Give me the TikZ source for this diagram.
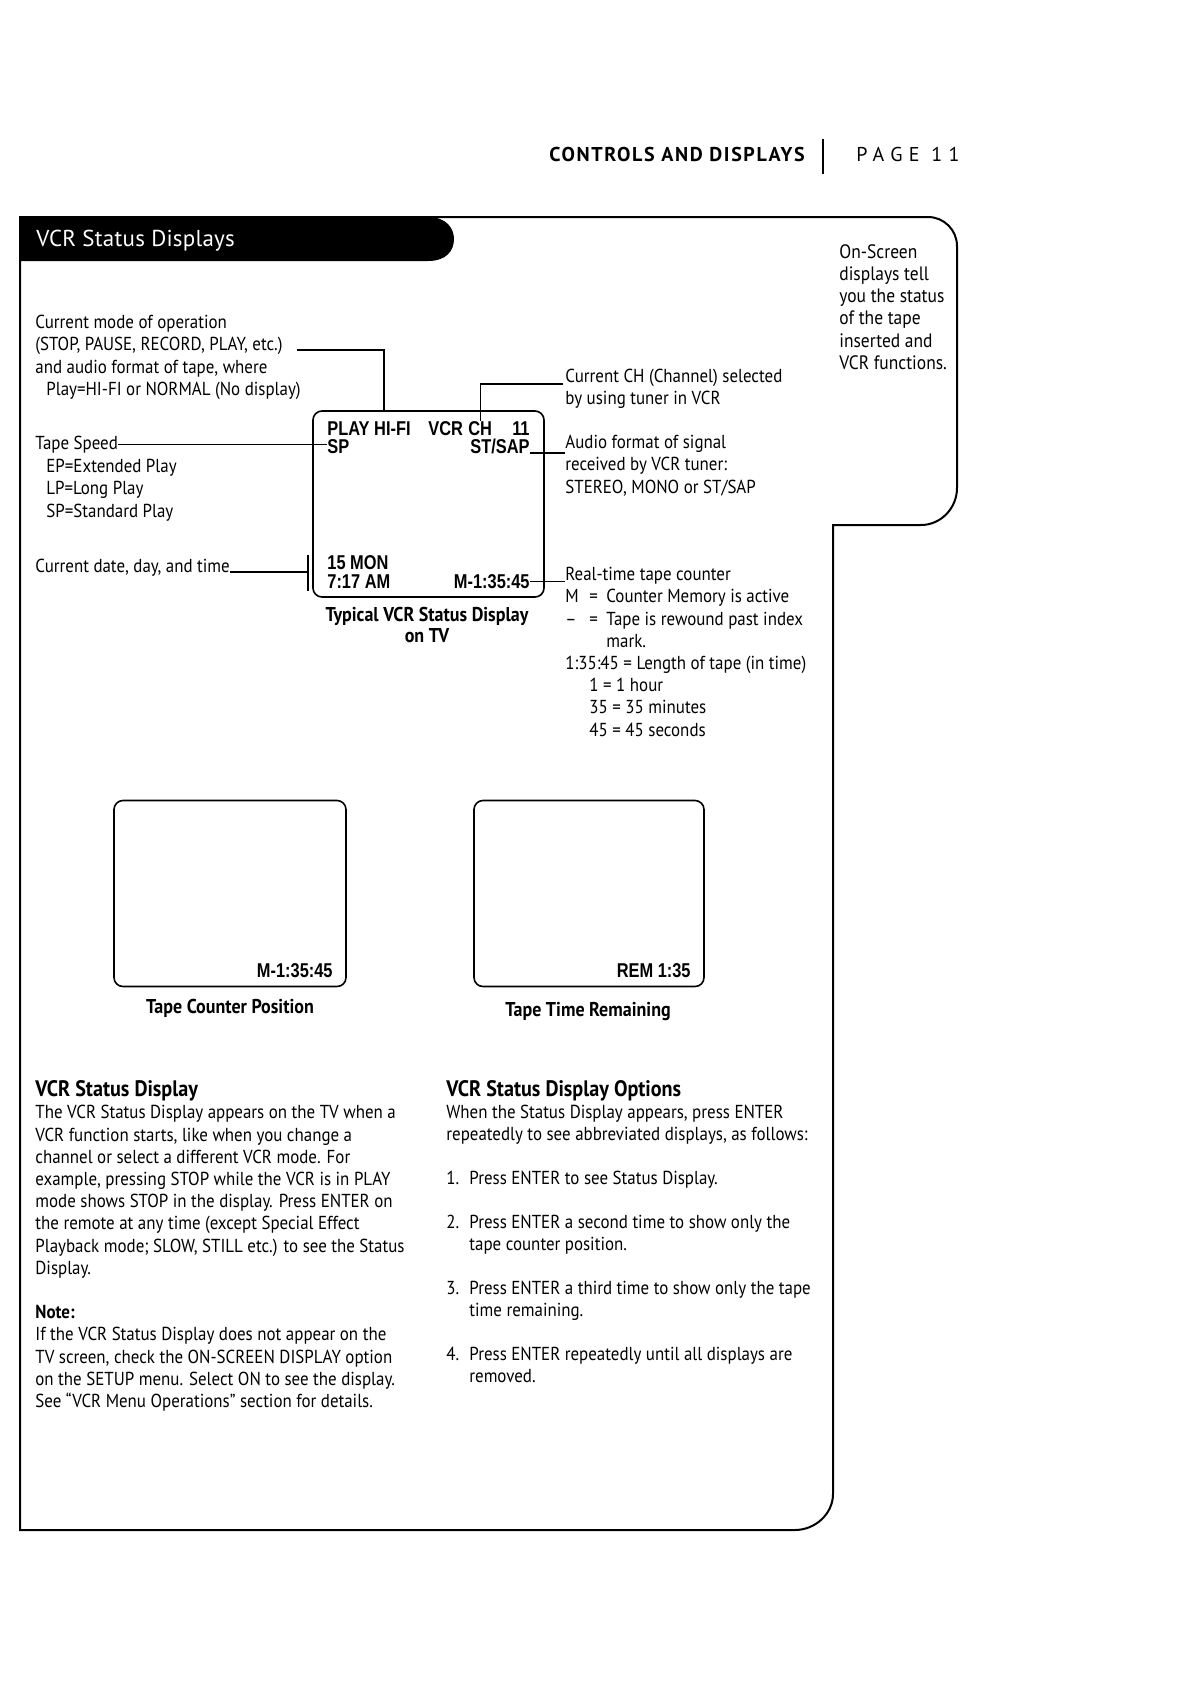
\documentclass[tikz,border=0pt]{standalone}
\usepackage{fontspec}
\setmainfont[FakeStretch=0.9]{PT Sans}
\newfontfamily\tvfont[FakeStretch=0.82]{Liberation Sans}
\newfontfamily\headfont[LetterSpace=8]{PT Sans}
\newfontfamily\pagefont[LetterSpace=32]{PT Sans}
\newfontfamily\titlefont[LetterSpace=1]{PT Sans}

\tikzset{
  txt/.style={inner sep=0pt, anchor=north west, align=left,
    font=\fontsize{9.4}{11.1}\selectfont},
  oneline/.style={inner sep=0pt, anchor=base west,
    font=\fontsize{9.4}{11.1}\selectfont},
  tvtxt/.style={inner sep=0pt, anchor=base west,
    font=\tvfont\bfseries\fontsize{10}{11}\selectfont},
  tvbox/.style={draw, line width=0.8pt, rounded corners=4.5pt,
    inner sep=0pt, minimum height=93pt},
  capt/.style={inner sep=0pt, align=center,
    font=\bfseries\fontsize{10}{10.5}\selectfont},
  sechead/.style={inner sep=0pt, anchor=base west,
    font=\bfseries\fontsize{11.2}{12}\selectfont},
  lead/.style={line width=0.6pt},
  frame/.style={line width=1pt},
}

\begin{document}
\begin{tikzpicture}[x={(0.5pt,0)}, y={(0,-0.5pt)}]
\useasboundingbox (0,0) rectangle (1190,1682);

% page header
\node[inner sep=0pt, anchor=base east,
  font=\headfont\bfseries\fontsize{10}{11}\selectfont] (section) at (805,161) {CONTROLS AND DISPLAYS};
\node[inner sep=0pt, anchor=base west,
  font=\pagefont\fontsize{10}{11}\selectfont] (page) at (856,161) {PAGE 11};
\draw[line width=0.8pt] (823,139) -- (823,174);

% outer frame with the side panel
\draw[frame] (20,1530) -- (20,217) -- (928,217)
  .. controls (944,217) and (957,230) .. (957,246) -- (957,488)
  .. controls (957,508) and (941,525) .. (921,525) -- (833,525) -- (833,1494)
  .. controls (833,1514) and (815,1530) .. (795,1530) -- cycle;

% black title tab
\fill (20,217) -- (428,217) .. controls (447,217) and (454,229) .. (454,239)
  .. controls (454,251) and (446,261) .. (428,261) -- (20,261) -- cycle;
\node[inner sep=0pt, anchor=base west, text=white,
  font=\titlefont\fontsize{11.5}{13}\selectfont] (title) at (36,246) {VCR Status Displays};

% side note
\node[txt, font=\fontsize{9.7}{11.1}\selectfont] (aside) at (839,244) {On-Screen\\displays tell\\you the status\\of the tape\\inserted and\\VCR functions.};

% typical status display
\node[tvbox, minimum width=115.5pt] (tv) at (428.5,504) {};
\node[tvtxt] (play) at (327,435) {PLAY HI-FI};
\node[tvtxt] (vcr) at (428,435) {VCR};
\node[tvtxt] (ch) at (468,435) {CH};
\node[tvtxt, anchor=base east] (chnum) at (530,435) {11};
\node[tvtxt] (sp) at (327,453) {SP};
\node[tvtxt, anchor=base east] (stsap) at (530,453) {ST/SAP};
\node[tvtxt] (day) at (327,569) {15 MON};
\node[tvtxt] (clock) at (327,588) {7:17 AM};
\node[tvtxt, anchor=base east] (counter) at (530,588) {M-1:35:45};
\node[capt, anchor=north] (tvcap) at (427,607) {Typical VCR Status Display\\on TV};

% left annotations
\node[txt] (modetxt) at (35,315) {Current mode of operation\\(STOP, PAUSE, RECORD, PLAY, etc.)\\and audio format of tape, where\\\hspace*{5.5pt}Play=HI-FI or NORMAL (No display)};
\node[oneline] (speed) at (35,449) {Tape Speed};
\node[txt] (speedlist) at (46,459) {EP=Extended Play\\LP=Long Play\\SP=Standard Play};
\node[oneline] (datetxt) at (35,572) {Current date, day, and time};

% right annotations
\node[txt] (chtxt) at (565,369) {Current CH (Channel) selected\\by using tuner in VCR};
\node[txt] (audio) at (565,435) {Audio format of signal\\received by VCR tuner:\\STEREO, MONO or ST/SAP};
\node[txt] (rtlist) at (565,567) {Real-time tape counter\\
  \makebox[12pt][l]{M}\makebox[8.5pt][l]{=}Counter Memory is active\\
  \makebox[12pt][l]{--}\makebox[8.5pt][l]{=}Tape is rewound past index\\
  \hspace*{20.5pt}mark.\\
  1:35:45 = Length of tape (in time)\\
  \hspace*{12pt}1 = 1 hour\\
  \hspace*{12pt}35 = 35 minutes\\
  \hspace*{12pt}45 = 45 seconds};

% connectors
\coordinate (modeend) at (297,350);
\coordinate (modetv) at (384,411);
\coordinate (chlead) at (563,384);
\coordinate (brtop) at (308,555);
\coordinate (brbot) at (308,591);
\draw[lead] (modeend) -| (modetv);
\draw[lead] (chlead) -| (ch.north);
\draw[lead] (speed.east) -- (speed.east -| sp.west);
\draw[lead] (stsap.base east) -- (stsap.base east -| audio.west);
\draw[lead] (datetxt.base east) -- (datetxt.base east -| brtop);
\draw[lead] (brtop) -- (brbot);
\draw[lead] (counter.east) -- (counter.east -| rtlist.west);

% abbreviated displays
\node[tvbox, minimum width=116pt] (countbox) at (230,893.5) {};
\node[tvtxt, anchor=base east] (countval) at (333,977) {M-1:35:45};
\node[capt] (countcap) at (230,1008) {Tape Counter Position};
\node[tvbox, minimum width=115pt] (rembox) at (589,893.5) {};
\node[tvtxt, anchor=base east] (remval) at (691,977) {REM 1:35};
\node[capt] (remcap) at (588,1011) {Tape Time Remaining};

% left column text
\node[sechead] (head1) at (35,1096) {VCR Status Display};
\node[txt] (body1) at (35,1105) {The VCR Status Display appears on the TV when a\\
VCR function starts, like when you change a\\
channel or select a different VCR mode. For\\
example, pressing STOP while the VCR is in PLAY\\
mode shows STOP in the display. Press ENTER on\\
the remote at any time (except Special Effect\\
Playback mode; SLOW, STILL etc.) to see the Status\\
Display.\\[11.1pt]
\textbf{Note:}\\
If the VCR Status Display does not appear on the\\
TV screen, check the ON-SCREEN DISPLAY option\\
on the SETUP menu. Select ON to see the display.\\
See ``VCR Menu Operations'' section for details.};

% right column text
\node[sechead] (head2) at (446,1096) {VCR Status Display Options};
\node[txt, font=\fontsize{9.4}{11}\selectfont] (body2) at (446,1105) {When the Status Display appears, press ENTER\\
repeatedly to see abbreviated displays, as follows:\\[11pt]
\makebox[11.5pt][l]{1.}Press ENTER to see Status Display.\\[11pt]
\makebox[11.5pt][l]{2.}Press ENTER a second time to show only the\\
\hspace*{11.5pt}tape counter position.\\[11pt]
\makebox[11.5pt][l]{3.}Press ENTER a third time to show only the tape\\
\hspace*{11.5pt}time remaining.\\[11pt]
\makebox[11.5pt][l]{4.}Press ENTER repeatedly until all displays are\\
\hspace*{11.5pt}removed.};
\end{tikzpicture}
\end{document}
